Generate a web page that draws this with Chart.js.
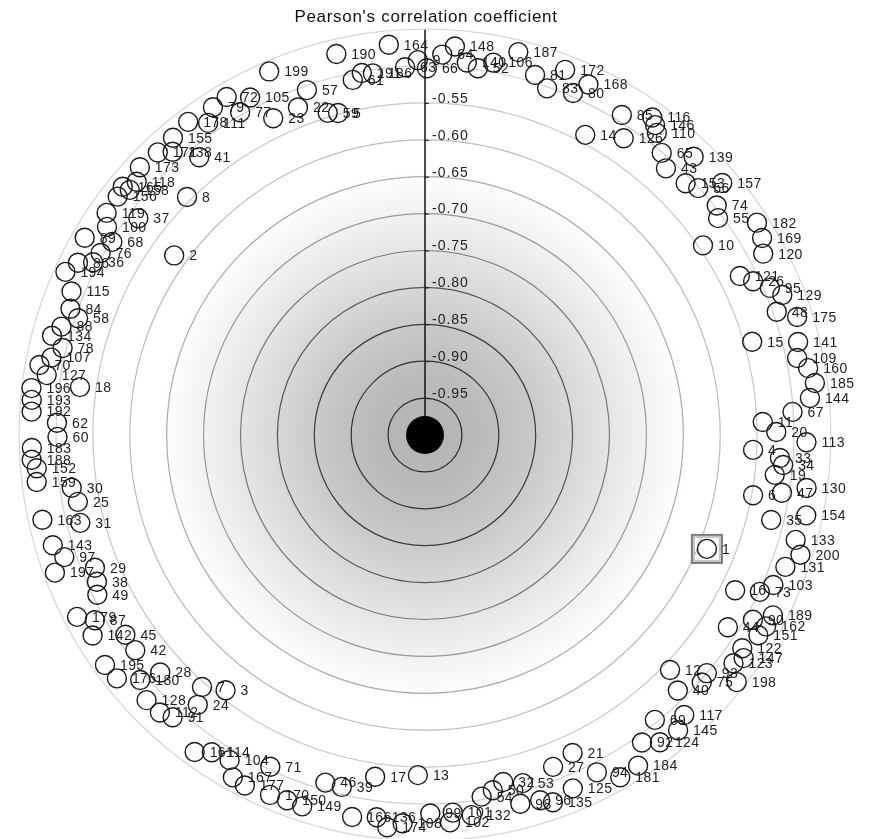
<!DOCTYPE html>
<html>
<head>
<meta charset="utf-8">
<script src="https://cdn.jsdelivr.net/npm/chart.js@4.4.0/dist/chart.umd.min.js"></script>
<style>
  html, body { margin: 0; padding: 0; background: #fff; }
  canvas { display: block; }
</style>
</head>
<body>
<canvas id="radialChart" width="869" height="839"></canvas>
<script>
const TITLE = "Pearson's correlation coefficient";
const RING_VALUES = [-0.95, -0.90, -0.85, -0.80, -0.75, -0.70, -0.65, -0.60, -0.55, -0.50, -0.45];
const TICK_LABELS = ['-0.95', '-0.90', '-0.85', '-0.80', '-0.75', '-0.70', '-0.65', '-0.60', '-0.55'];
const SELECTED_ID = 1;

// item number, correlation (radius) and angle in degrees clockwise from the top
const pointIds = [
  190, 164, 61, 191, 186, 63, 9, 66, 64, 148, 140, 52, 106, 187, 81, 83, 172, 168, 80, 85,
  116, 146, 110, 14, 126, 65, 139, 43, 153, 56, 157, 74, 55, 182, 169, 120, 10, 121, 26, 95,
  129, 48, 175, 15, 141, 109, 160, 185, 144, 67, 11, 20, 113, 4, 33, 34, 19, 6, 47, 130,
  35, 154, 133, 200, 131, 1, 16, 73, 103, 44, 90, 189, 162, 151, 122, 147, 123, 198, 12, 93,
  75, 40, 69, 117, 145, 92, 124, 184, 94, 181, 21, 27, 125, 135, 53, 32, 98, 96, 54, 50,
  13, 17, 39, 46, 166, 136, 174, 108, 99, 101, 102, 132, 149, 150, 170, 71, 177, 167, 104, 114,
  161, 91, 112, 128, 24, 7, 3, 28, 180, 176, 195, 42, 45, 142, 87, 179, 49, 38, 29, 197,
  97, 143, 163, 31, 25, 30, 159, 152, 188, 183, 60, 62, 192, 193, 196, 18, 127, 70, 107, 78,
  134, 88, 58, 84, 115, 194, 86, 36, 76, 89, 68, 2, 119, 100, 37, 8, 156, 165, 158, 118,
  173, 171, 138, 41, 155, 178, 111, 79, 72, 77, 105, 199, 23, 57, 22, 59, 5
];
const pointCorr = [
  -0.470, -0.469, -0.509, -0.502, -0.505, -0.501, -0.492, -0.503, -0.484, -0.472, -0.492, -0.498, -0.487, -0.466, -0.490, -0.502, -0.470, -0.476, -0.495, -0.491,
  -0.471, -0.477, -0.484, -0.539, -0.516, -0.501, -0.476, -0.513, -0.509, -0.501, -0.472, -0.497, -0.506, -0.466, -0.471, -0.480, -0.544, -0.522, -0.509, -0.492,
  -0.480, -0.495, -0.471, -0.539, -0.479, -0.485, -0.473, -0.467, -0.476, -0.501, -0.542, -0.524, -0.483, -0.555, -0.518, -0.513, -0.523, -0.548, -0.510, -0.478,
  -0.517, -0.472, -0.478, -0.466, -0.480, -0.588, -0.530, -0.499, -0.486, -0.514, -0.490, -0.469, -0.470, -0.473, -0.482, -0.473, -0.480, -0.461, -0.540, -0.500,
  -0.497, -0.513, -0.504, -0.483, -0.473, -0.490, -0.476, -0.467, -0.487, -0.466, -0.525, -0.518, -0.481, -0.473, -0.510, -0.518, -0.484, -0.481, -0.504, -0.510,
  -0.539, -0.532, -0.510, -0.510, -0.473, -0.478, -0.466, -0.473, -0.487, -0.487, -0.474, -0.481, -0.470, -0.471, -0.469, -0.504, -0.466, -0.468, -0.486, -0.482,
  -0.469, -0.487, -0.480, -0.479, -0.522, -0.544, -0.561, -0.518, -0.491, -0.468, -0.466, -0.511, -0.512, -0.474, -0.487, -0.468, -0.506, -0.513, -0.518, -0.465,
  -0.484, -0.474, -0.469, -0.518, -0.521, -0.516, -0.470, -0.472, -0.466, -0.467, -0.502, -0.501, -0.466, -0.465, -0.463, -0.528, -0.481, -0.469, -0.483, -0.495,
  -0.477, -0.486, -0.504, -0.490, -0.483, -0.465, -0.475, -0.493, -0.496, -0.467, -0.502, -0.582, -0.474, -0.485, -0.513, -0.544, -0.473, -0.470, -0.480, -0.480,
  -0.470, -0.473, -0.486, -0.515, -0.472, -0.468, -0.485, -0.471, -0.469, -0.496, -0.485, -0.464, -0.524, -0.506, -0.524, -0.544, -0.548
];
const pointAngle = [
  346.9, 354.7, 348.5, 350.1, 351.8, 356.9, 358.9, 0.3, 2.6, 4.4, 6.4, 8.2, 10.4, 13.7, 17.0, 19.4, 21.0, 25.0, 23.4, 31.6,
  35.6, 36.6, 37.5, 28.1, 33.8, 40.0, 44.0, 42.1, 46.0, 47.9, 49.7, 51.8, 53.5, 57.4, 59.7, 61.8, 55.7, 63.2, 64.9, 66.9,
  68.6, 70.7, 72.4, 74.1, 76.0, 78.3, 80.1, 82.4, 84.5, 86.4, 87.8, 89.5, 91.1, 92.6, 93.7, 94.8, 96.5, 100.4, 99.2, 97.9,
  103.8, 101.9, 105.8, 107.7, 110.1, 112.0, 116.6, 115.1, 113.3, 122.4, 119.4, 117.4, 119.3, 121.0, 123.9, 125.0, 126.5, 128.4, 133.8, 130.2,
  131.8, 135.3, 141.1, 137.2, 139.4, 144.8, 142.6, 147.2, 153.0, 150.3, 155.1, 158.9, 157.3, 160.8, 164.3, 167.3, 165.5, 162.5, 171.1, 169.2,
  181.2, 188.3, 193.3, 196.0, 190.8, 187.2, 185.5, 183.3, 179.2, 175.8, 176.3, 173.0, 198.3, 200.7, 203.3, 205.0, 207.2, 209.3, 211.0, 213.9,
  216.0, 221.8, 223.7, 226.4, 220.1, 221.5, 218.0, 228.1, 229.3, 231.7, 234.3, 233.4, 236.3, 238.9, 240.7, 242.4, 244.0, 245.9, 248.1, 249.6,
  251.3, 253.5, 257.5, 255.7, 259.1, 261.5, 263.1, 265.1, 266.4, 268.1, 269.7, 271.9, 273.4, 275.1, 276.8, 277.9, 279.0, 280.3, 281.7, 283.5,
  284.9, 286.6, 288.6, 289.6, 292.1, 294.4, 296.4, 297.5, 299.3, 300.1, 301.7, 305.6, 304.9, 303.2, 307.1, 315.0, 307.8, 309.4, 309.7, 311.3,
  313.2, 316.6, 318.3, 320.9, 319.7, 322.9, 325.2, 327.1, 329.6, 330.2, 332.6, 336.8, 334.4, 341.1, 338.8, 343.2, 344.9
];

// the plot centre sits at (425, 435); 0.05 of correlation is about 36.9 px
const W = 869, H = 839, CX = 425, CY = 435, PX_PER_UNIT = 738;

const points = pointIds.map(function (id, i) {
  const r = pointCorr[i] + 1;            // distance from the centre (-1)
  const a = pointAngle[i] * Math.PI / 180;
  return { x: r * Math.sin(a), y: r * Math.cos(a), id: id };
});

const ringColors = ['#2a2a2a', '#333', '#3a3a3a', '#555', '#7a7a7a', '#999', '#aaa', '#bbb', '#c6c6c6', '#cecece', '#d6d6d6'];

const radialBackdrop = {
  id: 'radialBackdrop',
  beforeDatasetsDraw(chart) {
    const ctx = chart.ctx;
    const xs = chart.scales.x, ys = chart.scales.y;
    const cx = xs.getPixelForValue(0), cy = ys.getPixelForValue(0);
    const unit = xs.getPixelForValue(1) - cx;
    const gr = 0.36 * unit;

    ctx.save();
    const g = ctx.createRadialGradient(cx, cy, 0, cx, cy, gr);
    g.addColorStop(0, '#b3b3b3');
    g.addColorStop(0.2, '#bababa');
    g.addColorStop(0.4, '#c8c8c8');
    g.addColorStop(0.6, '#dcdcdc');
    g.addColorStop(0.8, '#efefef');
    g.addColorStop(1, '#ffffff');
    ctx.fillStyle = g;
    ctx.beginPath();
    ctx.arc(cx, cy, gr, 0, Math.PI * 2);
    ctx.fill();

    ctx.lineWidth = 1.2;
    RING_VALUES.forEach(function (v, i) {
      ctx.strokeStyle = ringColors[i];
      ctx.beginPath();
      ctx.arc(cx, cy, (v + 1) * unit, 0, Math.PI * 2);
      ctx.stroke();
    });
    ctx.restore();
  },
  afterDatasetsDraw(chart) {
    const ctx = chart.ctx;
    const xs = chart.scales.x, ys = chart.scales.y;
    const cx = xs.getPixelForValue(0), cy = ys.getPixelForValue(0);

    ctx.save();
    // vertical axis with its ticks
    ctx.strokeStyle = '#111';
    ctx.lineWidth = 1.5;
    ctx.beginPath();
    ctx.moveTo(cx, cy);
    ctx.lineTo(cx, ys.getPixelForValue(0.549));
    ctx.stroke();

    ctx.font = '14px "Liberation Sans", Arial, sans-serif';
    ctx.letterSpacing = '1px';
    ctx.fillStyle = '#222';
    ctx.textBaseline = 'middle';
    ctx.textAlign = 'left';
    TICK_LABELS.forEach(function (t) {
      const y = ys.getPixelForValue(parseFloat(t) + 1);
      ctx.lineWidth = 1;
      ctx.beginPath();
      ctx.moveTo(cx, y + 0.5);
      ctx.lineTo(cx + 4, y + 0.5);
      ctx.stroke();
      ctx.fillText(t, cx + 7, y - 4);
    });

    // centre dot
    ctx.fillStyle = '#000';
    ctx.beginPath();
    ctx.arc(cx, cy, 19, 0, Math.PI * 2);
    ctx.fill();

    // point labels
    const meta = chart.getDatasetMeta(0);
    ctx.font = '14px "Liberation Sans", Arial, sans-serif';
    ctx.letterSpacing = '0.4px';
    ctx.fillStyle = '#1e1e1e';
    meta.data.forEach(function (el, i) {
      ctx.fillText(String(pointIds[i]), el.x + 15, el.y + 1);
      if (pointIds[i] === SELECTED_ID) {
        ctx.lineWidth = 2;
        ctx.strokeStyle = '#777';
        ctx.strokeRect(el.x - 15, el.y - 14, 30, 28);
        ctx.strokeStyle = '#c4c4c4';
        ctx.strokeRect(el.x - 13, el.y - 12, 26, 24);
      }
    });

    // title
    ctx.font = '17px "Liberation Sans", Arial, sans-serif';
    ctx.letterSpacing = '0.7px';
    ctx.fillStyle = '#111';
    ctx.textAlign = 'center';
    ctx.textBaseline = 'alphabetic';
    ctx.fillText(TITLE, cx + 1, 22);
    ctx.restore();
  }
};

new Chart(document.getElementById('radialChart'), {
  type: 'scatter',
  data: {
    datasets: [{
      label: TITLE,
      data: points,
      pointRadius: 9.5,
      pointHoverRadius: 9.5,
      pointBorderWidth: 1.4,
      borderColor: '#1a1a1a',
      backgroundColor: 'rgba(0,0,0,0)',
      clip: false
    }]
  },
  options: {
    responsive: false,
    animation: false,
    layout: { padding: 0, autoPadding: false },
    scales: {
      x: { type: 'linear', display: false, min: -CX / PX_PER_UNIT, max: (W - CX) / PX_PER_UNIT },
      y: { type: 'linear', display: false, min: -(H - CY) / PX_PER_UNIT, max: CY / PX_PER_UNIT }
    },
    plugins: {
      legend: { display: false },
      tooltip: { enabled: false }
    }
  },
  plugins: [radialBackdrop]
});
</script>
</body>
</html>
